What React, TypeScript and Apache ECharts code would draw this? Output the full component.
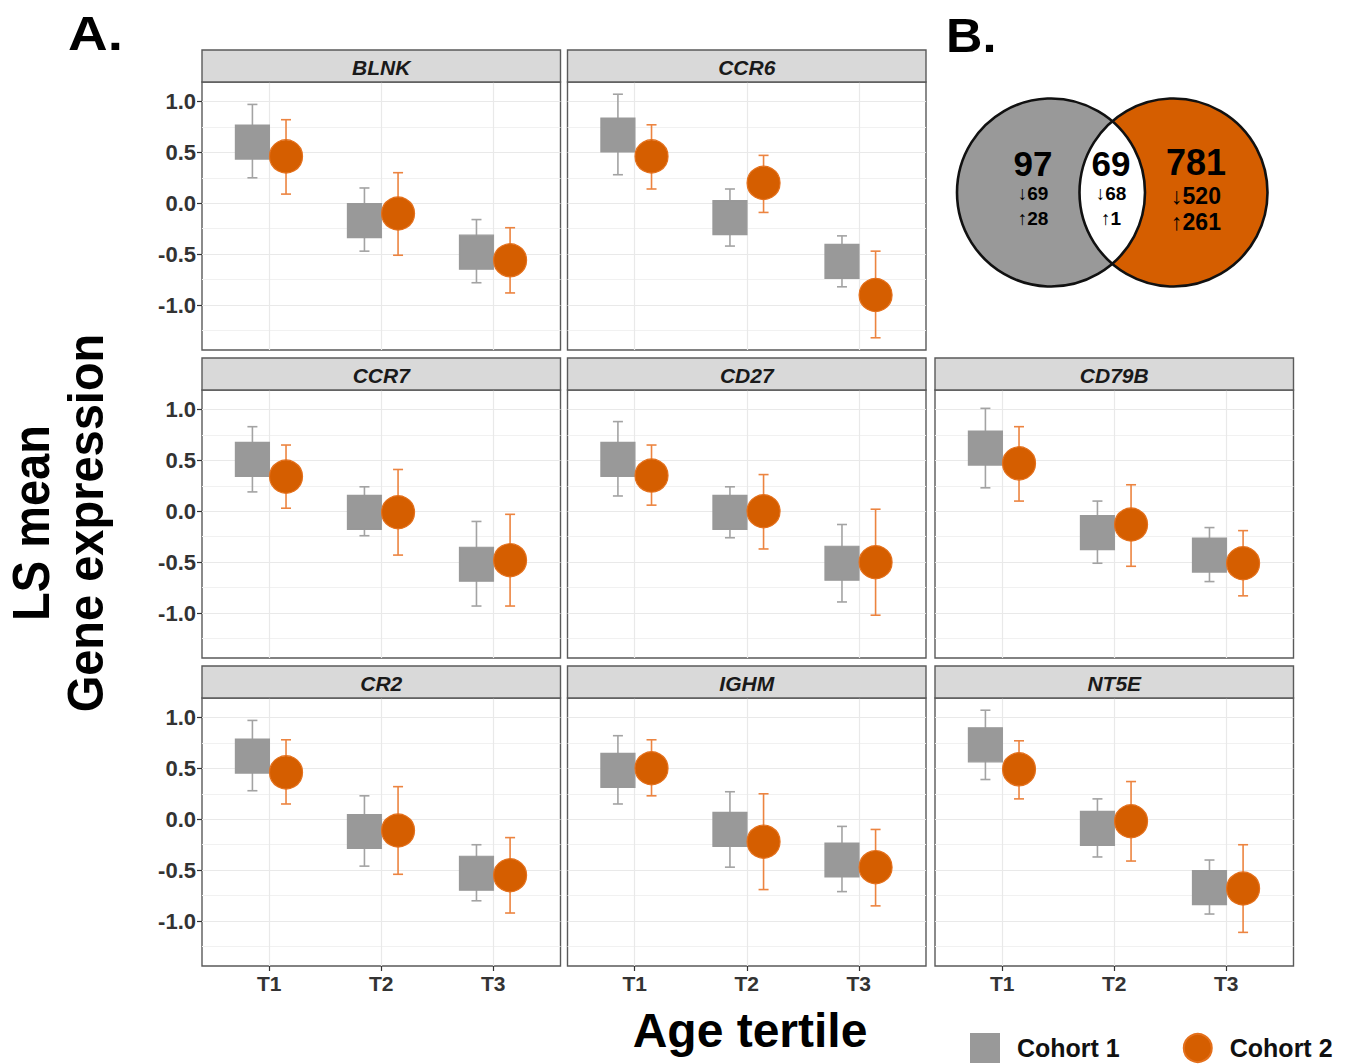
import React, { useEffect, useRef } from 'react';
import * as echarts from 'echarts';

const genes = ['BLNK', 'CCR6', 'CCR7', 'CD27', 'CD79B', 'CR2', 'IGHM', 'NT5E'];
const tertiles = ['T1', 'T2', 'T3'];
const cohorts = ['Cohort 1', 'Cohort 2'];

// LS mean gene expression per gene, [T1, T2, T3]
const cohort1Mean = [
  [0.60, -0.17, -0.48], [0.67, -0.14, -0.57], [0.51, -0.01, -0.52], [0.51, -0.01, -0.51],
  [0.62, -0.21, -0.43], [0.62, -0.12, -0.53], [0.48, -0.10, -0.40], [0.73, -0.09, -0.67],
];
const cohort1Lower = [
  [0.25, -0.47, -0.78], [0.28, -0.42, -0.82], [0.19, -0.24, -0.93], [0.15, -0.26, -0.89],
  [0.23, -0.51, -0.69], [0.28, -0.46, -0.80], [0.15, -0.47, -0.71], [0.39, -0.37, -0.93],
];
const cohort1Upper = [
  [0.97, 0.15, -0.16], [1.07, 0.14, -0.32], [0.83, 0.24, -0.10], [0.88, 0.24, -0.13],
  [1.01, 0.10, -0.16], [0.97, 0.23, -0.25], [0.82, 0.27, -0.07], [1.07, 0.20, -0.40],
];
const cohort2Mean = [
  [0.46, -0.10, -0.56], [0.46, 0.20, -0.90], [0.34, -0.01, -0.48], [0.35, 0.00, -0.50],
  [0.47, -0.13, -0.51], [0.46, -0.11, -0.55], [0.50, -0.22, -0.47], [0.49, -0.02, -0.68],
];
const cohort2Lower = [
  [0.09, -0.51, -0.88], [0.14, -0.09, -1.32], [0.03, -0.43, -0.93], [0.06, -0.37, -1.02],
  [0.10, -0.54, -0.83], [0.15, -0.54, -0.92], [0.23, -0.69, -0.85], [0.20, -0.41, -1.11],
];
const cohort2Upper = [
  [0.82, 0.30, -0.24], [0.77, 0.47, -0.47], [0.65, 0.41, -0.03], [0.65, 0.36, 0.02],
  [0.83, 0.26, -0.19], [0.78, 0.32, -0.18], [0.78, 0.25, -0.10], [0.77, 0.37, -0.25],
];

const yTicks = [-1, -0.5, 0, 0.5, 1];
const yMinorTicks = [-1.25, -0.75, -0.25, 0.25, 0.75];
const xTicks = [1, 2, 3];

// Venn diagram counts: [cohort 1 only, shared, cohort 2 only]
const vennTotals = [97, 69, 781];
const vennDown = [69, 68, 520];
const vennUp = [28, 1, 261];

const panelRow = [0, 0, 1, 1, 1, 2, 2, 2];
const panelCol = [0, 1, 0, 1, 2, 0, 1, 2];

const FONT = '"Liberation Sans", Arial, Helvetica, sans-serif';
const GREY = '#999999';
const ORANGE = '#d55e00';

export default function App() {
  const ref = useRef<HTMLDivElement>(null);

  useEffect(() => {
    document.body.style.margin = '0';
    const chart = echarts.init(ref.current!, null, { renderer: 'svg' });

    const colX = [202, 567.5, 935];
    const rowY = [82, 390, 698];
    const PW = 358.5;
    const PH = 268;
    const STRIP = 32;
    const DODGE = 0.15;
    const YMIN = -1.44;
    const YMAX = 1.19;

    const grid: any[] = [];
    const xAxis: any[] = [];
    const yAxis: any[] = [];
    const yAxisMinor: any[] = [];
    const series: any[] = [];
    const graphic: any[] = [];

    genes.forEach((g, i) => {
      const row = panelRow[i];
      const col = panelCol[i];
      grid.push({
        left: colX[col], top: rowY[row], width: PW, height: PH,
        show: true, backgroundColor: '#ffffff', borderColor: '#5a5a5a', borderWidth: 1.4,
      });
      xAxis.push({
        type: 'value', gridIndex: i, min: 0.4, max: 3.6, position: 'bottom',
        axisLine: { show: false, onZero: false },
        axisTick: { show: row === 2, customValues: xTicks, length: 5, lineStyle: { color: '#333', width: 1.2 } },
        axisLabel: {
          show: row === 2, customValues: xTicks, margin: 7,
          formatter: (v: number) => tertiles[Math.round(v) - 1],
          fontSize: 21, fontWeight: 'bold', color: '#333', fontFamily: FONT,
        },
        splitLine: { show: true, lineStyle: { color: '#e9e9e9', width: 1.2 } },
      });
      yAxis.push({
        type: 'value', gridIndex: i, min: YMIN, max: YMAX, position: 'left',
        axisLine: { show: false, onZero: false },
        axisTick: { show: col === 0, customValues: yTicks, length: 5, lineStyle: { color: '#333', width: 1.2 } },
        axisLabel: {
          show: col === 0, customValues: yTicks, margin: 6,
          formatter: (v: number) => v.toFixed(1),
          fontSize: 22, fontWeight: 'bold', color: '#333', fontFamily: FONT,
        },
        splitLine: { show: true, lineStyle: { color: '#e9e9e9', width: 1.2 } },
      });
      yAxisMinor.push({
        type: 'value', gridIndex: i, min: YMIN, max: YMAX, position: 'right',
        axisLine: { show: false, onZero: false },
        axisTick: { show: false, customValues: yMinorTicks },
        axisLabel: { show: false },
        splitLine: { show: true, lineStyle: { color: '#f1f1f1', width: 1 } },
      });

      const sets = [
        { mean: cohort1Mean[i], lo: cohort1Lower[i], hi: cohort1Upper[i], off: -DODGE, color: GREY, bar: '#a3a3a3', symbol: 'rect', size: 34, border: GREY },
        { mean: cohort2Mean[i], lo: cohort2Lower[i], hi: cohort2Upper[i], off: DODGE, color: ORANGE, bar: '#ec8440', symbol: 'circle', size: 33, border: '#e4701c' },
      ];
      sets.forEach((s, c) => {
        series.push({
          type: 'custom', name: 'err' + c, xAxisIndex: i, yAxisIndex: i, z: 2,
          data: tertiles.map((t, k) => [k + 1 + s.off, s.lo[k], s.hi[k]]),
          encode: { x: 0, y: [1, 2] },
          renderItem: (params: any, api: any) => {
            const x = api.value(0);
            const lo = api.coord([x, api.value(1)]);
            const hi = api.coord([x, api.value(2)]);
            const hw = 5;
            const style = { stroke: s.bar, lineWidth: 1.6 };
            return {
              type: 'group',
              children: [
                { type: 'line', shape: { x1: lo[0], y1: lo[1], x2: hi[0], y2: hi[1] }, style },
                { type: 'line', shape: { x1: lo[0] - hw, y1: lo[1], x2: lo[0] + hw, y2: lo[1] }, style },
                { type: 'line', shape: { x1: hi[0] - hw, y1: hi[1], x2: hi[0] + hw, y2: hi[1] }, style },
              ],
            };
          },
        });
        series.push({
          type: 'scatter', name: cohorts[c], xAxisIndex: i, yAxisIndex: i, z: 3,
          symbol: s.symbol, symbolSize: s.size,
          itemStyle: { color: s.color, borderColor: s.border, borderWidth: 1.2, opacity: 1 },
          data: tertiles.map((t, k) => [k + 1 + s.off, s.mean[k]]),
        });
      });

      // facet strip
      graphic.push({
        type: 'rect', z: 10,
        shape: { x: colX[col], y: rowY[row] - STRIP, width: PW, height: STRIP },
        style: { fill: '#d9d9d9', stroke: '#5a5a5a', lineWidth: 1.4 },
      });
      graphic.push({
        type: 'text', z: 11,
        x: colX[col] + PW / 2, y: rowY[row] - STRIP / 2 + 1,
        style: {
          text: g, fontSize: 21, fontWeight: 'bold', fontStyle: 'italic', fontFamily: FONT,
          fill: '#1a1a1a', align: 'center', verticalAlign: 'middle',
        },
      });
    });

    // Panel titles & axis titles
    graphic.push({
      type: 'text', x: 68, y: 33, scaleX: 1.12,
      style: { text: 'A.', fontSize: 49, fontWeight: 'bold', fontFamily: FONT, fill: '#000', align: 'left', verticalAlign: 'middle' },
    });
    graphic.push({
      type: 'text', x: 946, y: 35, scaleX: 1.05,
      style: { text: 'B.', fontSize: 48, fontWeight: 'bold', fontFamily: FONT, fill: '#000', align: 'left', verticalAlign: 'middle' },
    });
    graphic.push({
      type: 'text', x: 750, y: 1030,
      style: { text: 'Age tertile', fontSize: 48, fontWeight: 'bold', fontFamily: FONT, fill: '#000', align: 'center', verticalAlign: 'middle' },
    });
    graphic.push({
      type: 'text', x: 31, y: 523, rotation: Math.PI / 2, scaleY: 1.1,
      style: { text: 'LS mean', fontSize: 47, fontWeight: 'bold', fontFamily: FONT, fill: '#000', align: 'center', verticalAlign: 'middle' },
    });
    graphic.push({
      type: 'text', x: 86, y: 523, rotation: Math.PI / 2, scaleY: 1.05,
      style: { text: 'Gene expression', fontSize: 47, fontWeight: 'bold', fontFamily: FONT, fill: '#000', align: 'center', verticalAlign: 'middle' },
    });

    // Venn diagram
    const c1 = { cx: 1051, cy: 192.5 };
    const c2 = { cx: 1173.5, cy: 192.5 };
    const R = 94;
    const mx = (c1.cx + c2.cx) / 2;
    const dy = Math.sqrt(R * R - ((c2.cx - c1.cx) / 2) ** 2);
    const lensD = `M ${mx} ${c1.cy - dy} A ${R} ${R} 0 0 1 ${mx} ${c1.cy + dy} A ${R} ${R} 0 0 1 ${mx} ${c1.cy - dy} Z`;
    echarts.graphic.registerShape('vennLens', (echarts.graphic as any).extendPath(lensD, {}));
    graphic.push({ type: 'circle', shape: { cx: c1.cx, cy: c1.cy, r: R }, style: { fill: GREY } });
    graphic.push({ type: 'circle', shape: { cx: c2.cx, cy: c2.cy, r: R }, style: { fill: ORANGE } });
    graphic.push({ type: 'vennLens', x: 0, y: 0, style: { fill: '#ffffff' } });
    graphic.push({ type: 'circle', shape: { cx: c1.cx, cy: c1.cy, r: R }, style: { fill: 'none', stroke: '#111', lineWidth: 2.6 } });
    graphic.push({ type: 'circle', shape: { cx: c2.cx, cy: c2.cy, r: R }, style: { fill: 'none', stroke: '#111', lineWidth: 2.6 } });

    const vennX = [1033, 1111, 1196];
    const bigSize = [35, 35, 36];
    const smallSize = [19, 19, 23];
    const bigY = [163, 163, 162];
    const smallY = [[193, 218], [193, 218], [196, 222]];
    vennTotals.forEach((n, k) => {
      graphic.push({
        type: 'text', x: vennX[k], y: bigY[k],
        style: { text: String(n), fontSize: bigSize[k], fontWeight: 'bold', fontFamily: FONT, fill: '#000', align: 'center', verticalAlign: 'middle' },
      });
      graphic.push({
        type: 'text', x: vennX[k], y: smallY[k][0],
        style: { text: '↓' + vennDown[k], fontSize: smallSize[k], fontWeight: 'bold', fontFamily: FONT, fill: '#000', align: 'center', verticalAlign: 'middle' },
      });
      graphic.push({
        type: 'text', x: vennX[k], y: smallY[k][1],
        style: { text: '↑' + vennUp[k], fontSize: smallSize[k], fontWeight: 'bold', fontFamily: FONT, fill: '#000', align: 'center', verticalAlign: 'middle' },
      });
    });

    chart.setOption({
      animation: false,
      backgroundColor: '#ffffff',
      grid,
      xAxis,
      yAxis: [...yAxis, ...yAxisMinor],
      series,
      graphic,
      legend: {
        data: cohorts, left: 970, top: 1033, padding: 0, itemWidth: 28, itemHeight: 28, itemGap: 63,
        selectedMode: false,
        textStyle: { fontSize: 25, fontWeight: 'bold', color: '#111', fontFamily: FONT, padding: [0, 0, 0, 13], lineHeight: 28 },
      },
    });

    return () => chart.dispose();
  }, []);

  return <div ref={ref} style={{ position: 'absolute', left: 0, top: 0, width: 1360, height: 1064 }} />;
}
